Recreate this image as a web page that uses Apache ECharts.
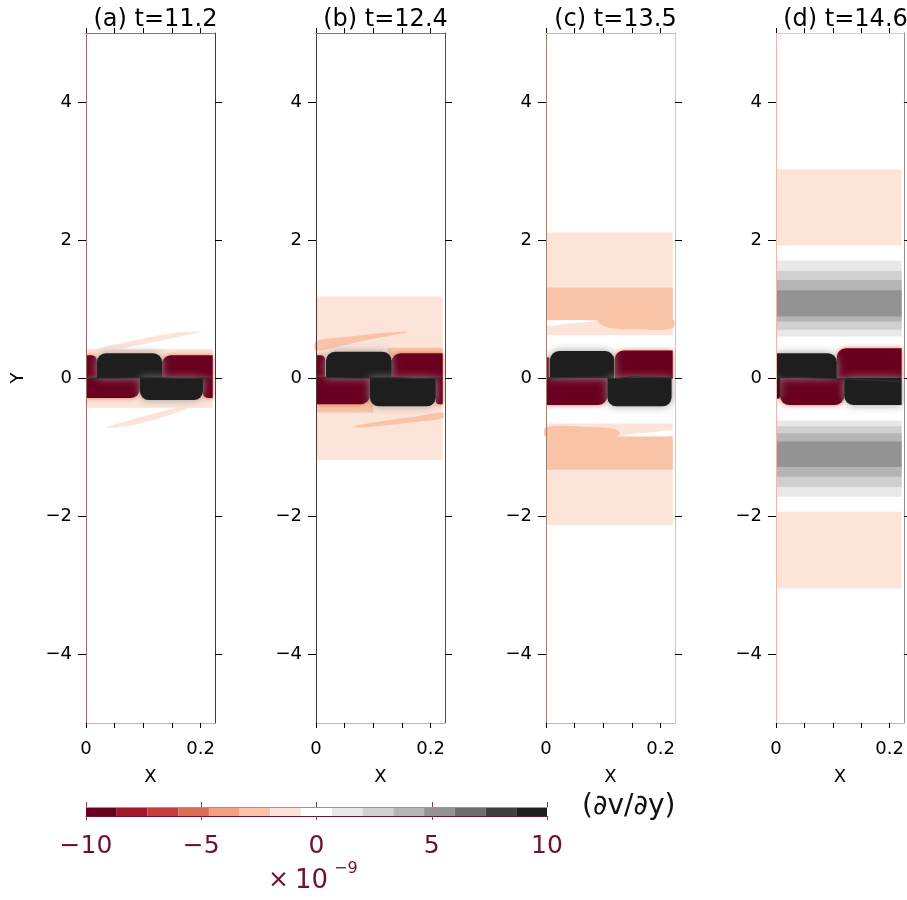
<!DOCTYPE html>
<html>
<head>
<meta charset="utf-8">
<script src="https://cdn.jsdelivr.net/npm/echarts@6/dist/echarts.min.js"></script>
<style>
  html, body { margin: 0; padding: 0; background: #ffffff; }
  #chart { width: 907px; height: 900px; }
</style>
</head>
<body>
<div id="chart"></div>
<script>
// ---- contour levels of dv/dy (units of 1e-9) and their fill colours ----
const levelEdges = [-10, -8.667, -7.333, -6, -4.667, -3.333, -2, -0.667,
                    0.667, 2, 3.333, 4.667, 6, 7.333, 8.667, 10];
const levelColors = ['#6a0020', '#a3172b', '#c43c3c', '#de6b55', '#f2a07e',
                     '#f9c3a8', '#fde4d8', '#ffffff', '#e8e8e8', '#d0d0d0',
                     '#b5b5b5', '#939393', '#6d6d6d', '#404040', '#1e1e1e'];
const colorbarTicks = [-10, -5, 0, 5, 10];

// ---- panel axes ----
const panelTitles = ['(a) t=11.2', '(b) t=12.4', '(c) t=13.5', '(d) t=14.6'];
const yTicks = [-4, -2, 0, 2, 4];
const xTicks = [0, 0.05, 0.1, 0.15, 0.2];
const xLabels = [0, 0.2];
const X_MAX = 0.225;
const DATA_X_MAX = 0.221;

// ---- field patches: [value, x0, x1, y0, y1] ----
const bandsA = [
  [-1.3, 0, 0.221, -0.43, 0.42]
];
const bandsB = [
  [-1.3, 0, 0.221, -1.19, 1.18],
  [-2.7, 0.125, 0.221, 0.30, 0.44],
  [-2.7, 0, 0.100, -0.50, -0.30]
];
const bandsC = [
  [-1.3, 0, 0.221, -2.13, 2.11],
  [-2.7, 0, 0.221, 0.84, 1.31],
  [-2.7, 0, 0.221, -1.33, -0.85],
  [0, 0, 0.221, 0.30, 0.62],
  [0, 0, 0.221, -0.66, -0.30]
];
const bandsD = [
  [-1.3, 0, 0.221, 1.92, 3.02],
  [-1.3, 0, 0.221, -3.05, -1.94],
  [1.3, 0, 0.221, -1.72, 1.70],
  [2.7, 0, 0.221, 0.70, 1.55],
  [4.0, 0, 0.221, 0.82, 1.42],
  [5.3, 0, 0.221, 0.89, 1.27],
  [2.7, 0, 0.221, -1.58, -0.70],
  [4.0, 0, 0.221, -1.43, -0.80],
  [5.3, 0, 0.221, -1.29, -0.92],
  [0, 0, 0.221, -0.62, 0.60]
];

// ---- sheared filaments / tongues: value and outline in (x, y) ----
const lensA = [
  { v: -1.3, pts: [[0.02, 0.42], [0.07, 0.52], [0.12, 0.61], [0.16, 0.66], [0.19, 0.675], [0.2, 0.67],
                   [0.18, 0.63], [0.14, 0.56], [0.10, 0.49], [0.06, 0.43]] },
  { v: -1.3, pts: [[0.035, -0.725], [0.07, -0.695], [0.11, -0.625], [0.15, -0.525], [0.178, -0.43],
                   [0.16, -0.43], [0.12, -0.51], [0.08, -0.60], [0.05, -0.67]] }
];
const lensB = [
  { v: -2.7, pts: [[0, 0.53], [0.06, 0.60], [0.12, 0.655], [0.155, 0.675], [0.16, 0.665],
                   [0.14, 0.63], [0.09, 0.55], [0.04, 0.46], [0, 0.40]] },
  { v: -2.7, pts: [[0.065, -0.70], [0.12, -0.62], [0.18, -0.55], [0.221, -0.50],
                   [0.221, -0.58], [0.17, -0.64], [0.11, -0.695], [0.075, -0.715]] }
];
const lensC = [
  { v: -2.7, pts: [[0.09, 0.84], [0.097, 0.77], [0.115, 0.72], [0.16, 0.705], [0.221, 0.72], [0.221, 0.85]] },
  { v: -2.7, pts: [[0, -0.85], [0, -0.71], [0.08, -0.71], [0.12, -0.74], [0.129, -0.80], [0.12, -0.85]] },
  { v: 0, pts: [[0, 0.83], [0.09, 0.83], [0.04, 0.79], [0, 0.76]] },
  { v: 0, pts: [[0.221, -0.83], [0.13, -0.83], [0.18, -0.79], [0.221, -0.76]] }
];
const lensD = [];

// ---- vortex cores: [value, x0, x1, y0, y1] ----
const blobsA = [
  [-9.5, 0.1326, 0.221, 0, 0.33],
  [-9.5, 0, 0.019, 0, 0.33],
  [-9.5, 0, 0.094, -0.29, 0],
  [-9.5, 0.204, 0.221, -0.29, 0],
  [9.5, 0.019, 0.1326, 0, 0.36],
  [9.5, 0.094, 0.204, -0.32, 0]
];
const blobsB = [
  [-9.5, 0.132, 0.221, 0, 0.36],
  [-9.5, 0, 0.016, 0, 0.33],
  [-9.5, 0, 0.094, -0.38, 0],
  [-9.5, 0.209, 0.221, -0.38, 0],
  [9.5, 0.0174, 0.132, 0, 0.38],
  [9.5, 0.094, 0.209, -0.41, 0]
];
const blobsC = [
  [-9.5, 0.12, 0.221, 0, 0.40],
  [-9.5, 0, 0.006, 0, 0.30],
  [-9.5, 0, 0.107, -0.39, 0],
  [9.5, 0.007, 0.119, 0, 0.39],
  [9.5, 0.107, 0.219, -0.41, 0]
];
const blobsD = [
  [-9.5, 0.107, 0.221, 0, 0.43],
  [-9.5, 0.007, 0.12, -0.39, 0],
  [9.5, 0, 0.107, 0, 0.36],
  [9.5, 0.12, 0.221, -0.39, 0],
  [9.5, 0, 0.007, -0.30, 0]
];

// ---- thin shear sheet along y = 0 ----
const sheetA = [[0, -0.005], [0.06, 0.0], [0.11, 0.01], [0.16, -0.005], [0.221, 0.0]];
const sheetB = [[0, 0.01], [0.07, 0.0], [0.13, 0.01], [0.18, -0.01], [0.221, 0.0]];
const sheetC = [[0, 0.0], [0.06, 0.01], [0.1, 0.015], [0.12, -0.01], [0.15, 0.015], [0.221, 0.0]];
const sheetD = [[0, 0.02], [0.1, -0.01], [0.221, -0.05]];

const panels = [
  { bands: bandsA, lens: lensA, blobs: blobsA, sheet: sheetA },
  { bands: bandsB, lens: lensB, blobs: blobsB, sheet: sheetB },
  { bands: bandsC, lens: lensC, blobs: blobsC, sheet: sheetC },
  { bands: bandsD, lens: lensD, blobs: blobsD, sheet: sheetD }
];

// ---- layout ----
const FONT = 'DejaVu Sans';
const gridLeft = [86, 316, 546, 776];
const gridWidth = 129;
const gridTop = 33;
const gridHeight = 690;
const frame = [
  { left: '#9b6b6b', right: '#3a3a3a', top: '#857575', bottom: '#e4a898' },
  { left: '#4a3a3a', right: '#5a4a4a', top: '#857575', bottom: '#e4a898' },
  { left: '#a08070', right: '#c8c8c8', top: '#d8b0a8', bottom: '#e4a898' },
  { left: '#f0b8a8', right: '#909090', top: '#f0c8b8', bottom: '#e4a898' }
];
const minus = v => String(v).replace('-', '\u2212');

function clipOf(params) {
  const cs = params.coordSys;
  return { type: 'rect', shape: { x: cs.x, y: cs.y, width: cs.width, height: cs.height } };
}

function renderPatch(params, api) {
  const a = api.coord([api.value(1), api.value(4)]);
  const b = api.coord([api.value(2), api.value(3)]);
  return {
    type: 'rect',
    shape: { x: a[0], y: a[1], width: b[0] - a[0], height: b[1] - a[1] },
    style: { fill: api.visual('color') }
  };
}

function makeLensRenderer(list) {
  return function (params, api) {
    const pts = list[params.dataIndex].pts.map(p => api.coord(p));
    return {
      type: 'polygon',
      shape: { points: pts, smooth: 0.35 },
      style: { fill: api.visual('color') }
    };
  };
}

function renderBlob(params, api) {
  const v = api.value(0);
  const x0 = api.value(1), x1 = api.value(2), y0 = api.value(3), y1 = api.value(4);
  const a = api.coord([x0, y1]);
  const b = api.coord([x1, y0]);
  const w = b[0] - a[0], h = b[1] - a[1];
  const r = Math.min(9, w / 2, h);
  const rl = x0 > 0.001 ? r : 0;
  const rr = x1 < DATA_X_MAX - 0.001 ? r : 0;
  const radius = y0 >= 0 ? [rl, rr, 0, 0] : [0, 0, rr, rl];
  const dark = v > 0;
  return {
    type: 'group',
    clipPath: clipOf(params),
    children: [{
      type: 'rect',
      shape: { x: a[0], y: a[1], width: w, height: h, r: radius },
      style: {
        fill: api.visual('color'),
        shadowBlur: dark ? 8 : 5,
        shadowColor: dark ? 'rgba(150,150,150,0.95)' : 'rgba(222,100,78,0.95)'
      }
    }]
  };
}

const grids = [], xAxes = [], yAxes = [], series = [], titles = [];
const visualSeries = [];

panels.forEach((pn, i) => {
  grids.push({ left: gridLeft[i], top: gridTop, width: gridWidth, height: gridHeight, containLabel: false });
  // bottom x axis (data) and top x axis (ticks only)
  xAxes.push({
    gridIndex: i, type: 'value', min: 0, max: X_MAX, position: 'bottom', z: 10,
    name: 'X', nameLocation: 'middle', nameGap: 45,
    nameTextStyle: { fontFamily: FONT, fontSize: 18, color: '#000' },
    axisLine: { show: true, onZero: false, lineStyle: { color: frame[i].bottom, width: 1 } },
    axisTick: { show: true, customValues: xTicks, length: 5, inside: false, lineStyle: { color: '#000' } },
    axisLabel: { show: true, customValues: xLabels, margin: 17, fontFamily: FONT, fontSize: 18, color: '#000',
                 formatter: v => (v === 0 ? '0' : String(+v.toFixed(2))) },
    splitLine: { show: false }
  });
  xAxes.push({
    gridIndex: i, type: 'value', min: 0, max: X_MAX, position: 'top', z: 10,
    axisLine: { show: true, onZero: false, lineStyle: { color: frame[i].top, width: 1 } },
    axisTick: { show: true, customValues: xTicks, length: 5, inside: false, lineStyle: { color: '#000' } },
    axisLabel: { show: false },
    splitLine: { show: false }
  });
  yAxes.push({
    gridIndex: i, type: 'value', min: -5, max: 5, position: 'left', z: 10,
    name: i === 0 ? 'Y' : '', nameLocation: 'middle', nameGap: 59,
    nameTextStyle: { fontFamily: FONT, fontSize: 18, color: '#000' },
    axisLine: { show: true, onZero: false, lineStyle: { color: frame[i].left, width: 1 } },
    axisTick: { show: true, customValues: yTicks, length: 8, inside: false, lineStyle: { color: '#000' } },
    axisLabel: { show: true, customValues: yTicks, margin: 14, fontFamily: FONT, fontSize: 18, color: '#000',
                 formatter: v => minus(v) },
    splitLine: { show: false }
  });
  yAxes.push({
    gridIndex: i, type: 'value', min: -5, max: 5, position: 'right', z: 10,
    axisLine: { show: true, onZero: false, lineStyle: { color: frame[i].right, width: 1 } },
    axisTick: { show: true, customValues: yTicks, length: 7, inside: false, lineStyle: { color: '#000' } },
    axisLabel: { show: false },
    splitLine: { show: false }
  });

  const xi = i * 2, yi = i * 2;
  visualSeries.push(series.length);
  series.push({ type: 'custom', name: 'bands' + i, xAxisIndex: xi, yAxisIndex: yi, z: 2,
                renderItem: renderPatch, data: pn.bands, silent: true });
  if (pn.lens.length) {
    visualSeries.push(series.length);
    series.push({ type: 'custom', name: 'lens' + i, xAxisIndex: xi, yAxisIndex: yi, z: 3,
                  renderItem: makeLensRenderer(pn.lens), data: pn.lens.map(l => [l.v]), silent: true });
  }
  visualSeries.push(series.length);
  series.push({ type: 'custom', name: 'cores' + i, xAxisIndex: xi, yAxisIndex: yi, z: 4,
                renderItem: renderBlob, data: pn.blobs, silent: true });
  series.push({ type: 'line', name: 'sheet' + i, xAxisIndex: xi, yAxisIndex: yi, z: 6,
                data: pn.sheet, showSymbol: false, symbol: 'none', silent: true,
                lineStyle: { color: '#303030', width: 1.3 } });

  titles.push({
    text: panelTitles[i], left: gridLeft[i] + gridWidth / 2, top: 3, textAlign: 'center',
    textStyle: { fontFamily: FONT, fontSize: 24, fontWeight: 'normal', color: '#000' }
  });
});

// ---- colour bar ----
const CB = 4;
grids.push({ left: 86, top: 807, width: 461, height: 9, containLabel: false });
xAxes.push({
  gridIndex: CB, type: 'value', min: -10, max: 10, position: 'bottom', z: 10,
  axisLine: { show: true, onZero: false, lineStyle: { color: '#6b1535', width: 1 } },
  axisTick: { show: true, customValues: colorbarTicks, length: 4, lineStyle: { color: '#8a3a55' } },
  axisLabel: { show: true, customValues: colorbarTicks, margin: 18, fontFamily: FONT, fontSize: 25,
               color: '#6e1034', formatter: v => minus(v) },
  splitLine: { show: false }
});
xAxes.push({
  gridIndex: CB, type: 'value', min: -10, max: 10, position: 'top', z: 10,
  axisLine: { show: true, onZero: false, lineStyle: { color: '#b08a95', width: 1 } },
  axisTick: { show: true, customValues: colorbarTicks, length: 5, lineStyle: { color: '#8a3a55' } },
  axisLabel: { show: false },
  splitLine: { show: false }
});
yAxes.push({ gridIndex: CB, type: 'value', min: 0, max: 1, show: false });
visualSeries.push(series.length);
series.push({
  type: 'custom', name: 'colorbar', xAxisIndex: 8, yAxisIndex: 8, z: 2, silent: true,
  data: levelColors.map((c, k) => [(levelEdges[k] + levelEdges[k + 1]) / 2, levelEdges[k], levelEdges[k + 1]]),
  renderItem: function (params, api) {
    const a = api.coord([api.value(1), 1]);
    const b = api.coord([api.value(2), 0]);
    return { type: 'rect', shape: { x: a[0], y: a[1], width: b[0] - a[0], height: b[1] - a[1] },
             style: { fill: api.visual('color') } };
  }
});

const pieces = levelColors.map((c, k) => (k === levelColors.length - 1
  ? { gte: levelEdges[k], lte: levelEdges[k + 1], color: c }
  : { gte: levelEdges[k], lt: levelEdges[k + 1], color: c }));

const chart = echarts.init(document.getElementById('chart'), null, { renderer: 'canvas' });
chart.setOption({
  backgroundColor: '#ffffff',
  animation: false,
  title: titles,
  grid: grids,
  xAxis: xAxes,
  yAxis: yAxes,
  visualMap: [{ type: 'piecewise', show: false, dimension: 0, seriesIndex: visualSeries, pieces: pieces }],
  series: series,
  graphic: [
    { type: 'text', left: 582, top: 793, silent: true,
      style: { text: '(\u2202v/\u2202y)', fontFamily: FONT, fontSize: 28, fill: '#111' } },
    { type: 'text', left: 268, top: 868, silent: true,
      style: { text: '\u00d7', fontFamily: FONT, fontSize: 25, fill: '#6e1034' } },
    { type: 'text', left: 295, top: 868, silent: true,
      style: { text: '10', fontFamily: FONT, fontSize: 26, fill: '#6e1034' } },
    { type: 'text', left: 334, top: 861, silent: true,
      style: { text: '\u22129', fontFamily: FONT, fontSize: 16, fill: '#6e1034' } }
  ]
});
</script>
</body>
</html>
